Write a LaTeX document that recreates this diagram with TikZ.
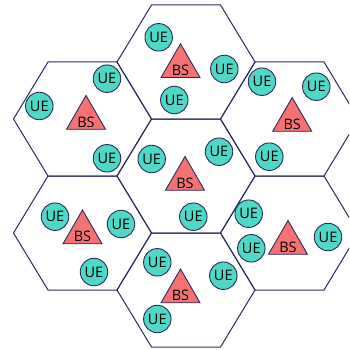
\documentclass[tikz,border=0pt]{standalone}
\usepackage{fontspec}
\usepackage{xcolor}
\usepackage{tikz}
\usetikzlibrary{shapes.geometric}
\newfontfamily\cellfont{Open Sans}
\definecolor{cellnavy}{RGB}{38,44,92}
\definecolor{uecyan}{RGB}{78,216,198}
\definecolor{bsred}{RGB}{246,114,114}

\begin{document}
\begin{tikzpicture}[x=1pt,y=-1pt,
cell/.style={draw=cellnavy, line width=1pt},
ue/.style={circle, draw=cellnavy, fill=uecyan, line width=0.9pt, minimum size=27.5pt, inner sep=0pt, font=\cellfont\fontsize{14.5}{16}\selectfont},
bs/.style={regular polygon, regular polygon sides=3, draw=cellnavy, fill=bsred, line width=0.9pt, minimum size=45pt, inner sep=0pt,
  label={[font=\cellfont\fontsize{14.5}{16}\selectfont, yshift=-4pt]center:BS}}
]
\useasboundingbox (0,0) rectangle (349,350);
\clip (0,0) rectangle (349,350);

% cells
\draw[cell] (186,62) ++(-69,0) -- ++(34.5,-57) -- ++(69,0) -- ++(34.5,57) -- ++(-34.5,57) -- ++(-69,0) -- cycle;
\draw[cell] (82.5,119) ++(-69,0) -- ++(34.5,-57) -- ++(69,0) -- ++(34.5,57) -- ++(-34.5,57) -- ++(-69,0) -- cycle;
\draw[cell] (289.5,119) ++(-69,0) -- ++(34.5,-57) -- ++(69,0) -- ++(34.5,57) -- ++(-34.5,57) -- ++(-69,0) -- cycle;
\draw[cell] (186,176) ++(-69,0) -- ++(34.5,-57) -- ++(69,0) -- ++(34.5,57) -- ++(-34.5,57) -- ++(-69,0) -- cycle;
\draw[cell] (82.5,233) ++(-69,0) -- ++(34.5,-57) -- ++(69,0) -- ++(34.5,57) -- ++(-34.5,57) -- ++(-69,0) -- cycle;
\draw[cell] (289.5,233) ++(-69,0) -- ++(34.5,-57) -- ++(69,0) -- ++(34.5,57) -- ++(-34.5,57) -- ++(-69,0) -- cycle;
\draw[cell] (186,290) ++(-69,0) -- ++(34.5,-57) -- ++(69,0) -- ++(34.5,57) -- ++(-34.5,57) -- ++(-69,0) -- cycle;

% base stations
\node[bs](bsa) at (180.5,66.3) {};
\node[bs](bsb) at (86,118) {};
\node[bs](bsc) at (292.2,120) {};
\node[bs](bsd) at (185,179) {};
\node[bs](bse) at (82.5,232.5) {};
\node[bs](bsf) at (288,243) {};
\node[bs](bsg) at (180.5,291.5) {};

% users
\node[ue](uea1) at (158.7,37.3) {UE};
\node[ue](uea2) at (224.3,69) {UE};
\node[ue](uea3) at (174.3,100) {UE};

\node[ue](ueb1) at (107,78.7) {UE};
\node[ue](ueb2) at (39.3,106) {UE};
\node[ue](ueb3) at (107,158.3) {UE};

\node[ue](uec1) at (262,81.7) {UE};
\node[ue](uec2) at (316.3,86.7) {UE};
\node[ue](uec3) at (269.3,156.7) {UE};

\node[ue](ued1) at (151.7,159) {UE};
\node[ue](ued2) at (219,151.7) {UE};
\node[ue](ued3) at (193.3,216.7) {UE};

\node[ue](uee1) at (55,216.7) {UE};
\node[ue](uee2) at (121,224) {UE};
\node[ue](uee3) at (94,272) {UE};

\node[ue](uef1) at (248.7,213.7) {UE};
\node[ue](uef2) at (251.3,248.3) {UE};
\node[ue](uef3) at (328,237) {UE};

\node[ue](ueg1) at (157.3,262.3) {UE};
\node[ue](ueg2) at (223.3,275.7) {UE};
\node[ue](ueg3) at (157.3,319) {UE};

\end{tikzpicture}
\end{document}
